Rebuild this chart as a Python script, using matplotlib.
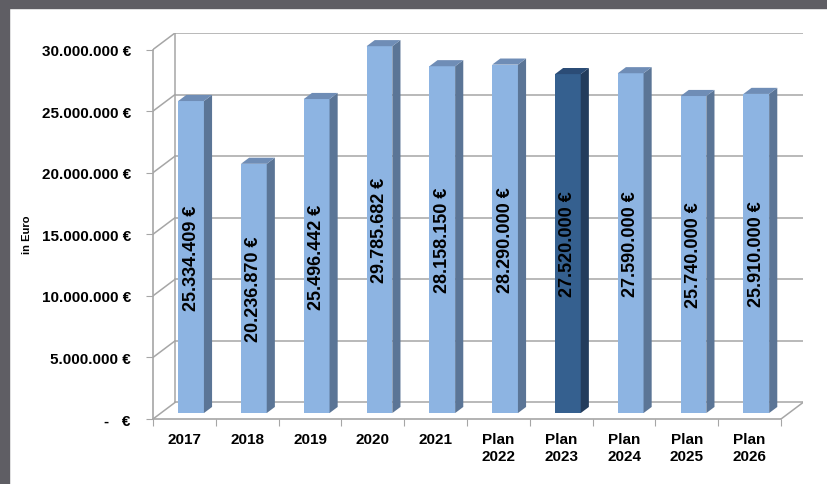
import matplotlib.pyplot as plt
from matplotlib.patches import Polygon, Rectangle

plt.rcParams['font.family'] = ['Liberation Sans', 'DejaVu Sans']

# data
categories = ['2017', '2018', '2019', '2020', '2021',
              'Plan\n2022', 'Plan\n2023', 'Plan\n2024', 'Plan\n2025', 'Plan\n2026']
values = [25334409, 20236870, 25496442, 29785682, 28158150,
          28290000, 27520000, 27590000, 25740000, 25910000]
highlight = 'Plan\n2023'
y_ticks = [0, 5e6, 10e6, 15e6, 20e6, 25e6, 30e6]

# pseudo 3d look (Excel style)
DX = 0.35       # depth offset in category units
DY = 1.34e6     # depth offset in euro units
D0, D1 = 0.36, 0.73   # bar front / back depth fraction
BW = 0.41

light = ('#8DB4E2', '#5B7596', '#6F8DB6')
dark = ('#35608F', '#233C5C', '#2B4C76')
grid_col = '#A6A6A6'


def euro(v):
    if v == 0:
        return '-   €'
    return f'{int(round(v)):,}'.replace(',', '.') + ' €'


fig = plt.figure(figsize=(8.28, 4.85), dpi=100)
# dark frame on top / left
fig.patches.append(Rectangle((0, 1 - 9 / 485), 1, 9 / 485, transform=fig.transFigure,
                             color='#5F5E64', zorder=0))
fig.patches.append(Rectangle((0, 0), 9 / 828, 1, transform=fig.transFigure,
                             color='#5F5E64', zorder=0))

ax = fig.add_axes([153 / 828, 1 - 420 / 485, 650 / 828, 386 / 485])
n = len(categories)
ax.set_xlim(-0.5, n - 0.5 + DX)
ax.set_ylim(0, y_ticks[-1] + DY)
ax.patch.set_alpha(0)

for s in ['top', 'right']:
    ax.spines[s].set_visible(False)
ax.spines['left'].set_bounds(0, y_ticks[-1])
ax.spines['bottom'].set_bounds(-0.5, n - 0.5)
for s in ['left', 'bottom']:
    ax.spines[s].set_color(grid_col)
    ax.spines[s].set_linewidth(1.2)

# back wall + side wall grid
for t in y_ticks:
    ax.plot([-0.5 + DX, n - 0.5 + DX], [t + DY, t + DY], color=grid_col, lw=1.1, zorder=1)
    ax.plot([-0.5, -0.5 + DX], [t, t + DY], color=grid_col, lw=1.1, zorder=1)
ax.plot([-0.5 + DX, -0.5 + DX], [DY, y_ticks[-1] + DY], color=grid_col, lw=1.1, zorder=1)
ax.plot([n - 0.5, n - 0.5 + DX], [0, DY], color=grid_col, lw=1.1, zorder=1)

# bars
for i, (cat, v) in enumerate(zip(categories, values)):
    front, side, top = dark if cat == highlight else light
    x0 = i - BW / 2 + D0 * DX - 0.02
    x1 = x0 + BW
    y0 = D0 * DY
    ddx = (D1 - D0) * DX
    ddy = (D1 - D0) * DY
    ax.add_patch(Polygon([(x0, y0), (x1, y0), (x1, v + y0), (x0, v + y0)],
                         closed=True, fc=front, ec='none', zorder=3))
    ax.add_patch(Polygon([(x1, y0), (x1 + ddx, y0 + ddy), (x1 + ddx, v + y0 + ddy), (x1, v + y0)],
                         closed=True, fc=side, ec='none', zorder=3))
    ax.add_patch(Polygon([(x0, v + y0), (x1, v + y0), (x1 + ddx, v + y0 + ddy), (x0 + ddx, v + y0 + ddy)],
                         closed=True, fc=top, ec='none', zorder=3))
    ax.text((x0 + x1) / 2, y0 + v / 2, euro(v), rotation=90, ha='center', va='center',
            fontsize=13, fontweight='bold', color='black', zorder=5)

# axes ticks
ax.set_yticks(y_ticks)
ax.set_yticklabels([euro(t) for t in y_ticks], fontsize=11, fontweight='bold')
ax.tick_params(axis='y', direction='out', length=5, color=grid_col, pad=11)

ax.set_xticks([i - 0.5 for i in range(n + 1)])
ax.set_xticklabels([])
ax.set_xticks(list(range(n)), minor=True)
ax.set_xticklabels(categories, minor=True, fontsize=11, fontweight='bold', linespacing=1.3)
ax.tick_params(axis='x', which='major', direction='out', length=5, color=grid_col)
ax.tick_params(axis='x', which='minor', length=0, pad=9)

fig.text(27 / 828, 1 - 235 / 485, 'in Euro', rotation=90, ha='center', va='center',
         fontsize=8, fontweight='bold')

fig.savefig('out.png', dpi=100)
